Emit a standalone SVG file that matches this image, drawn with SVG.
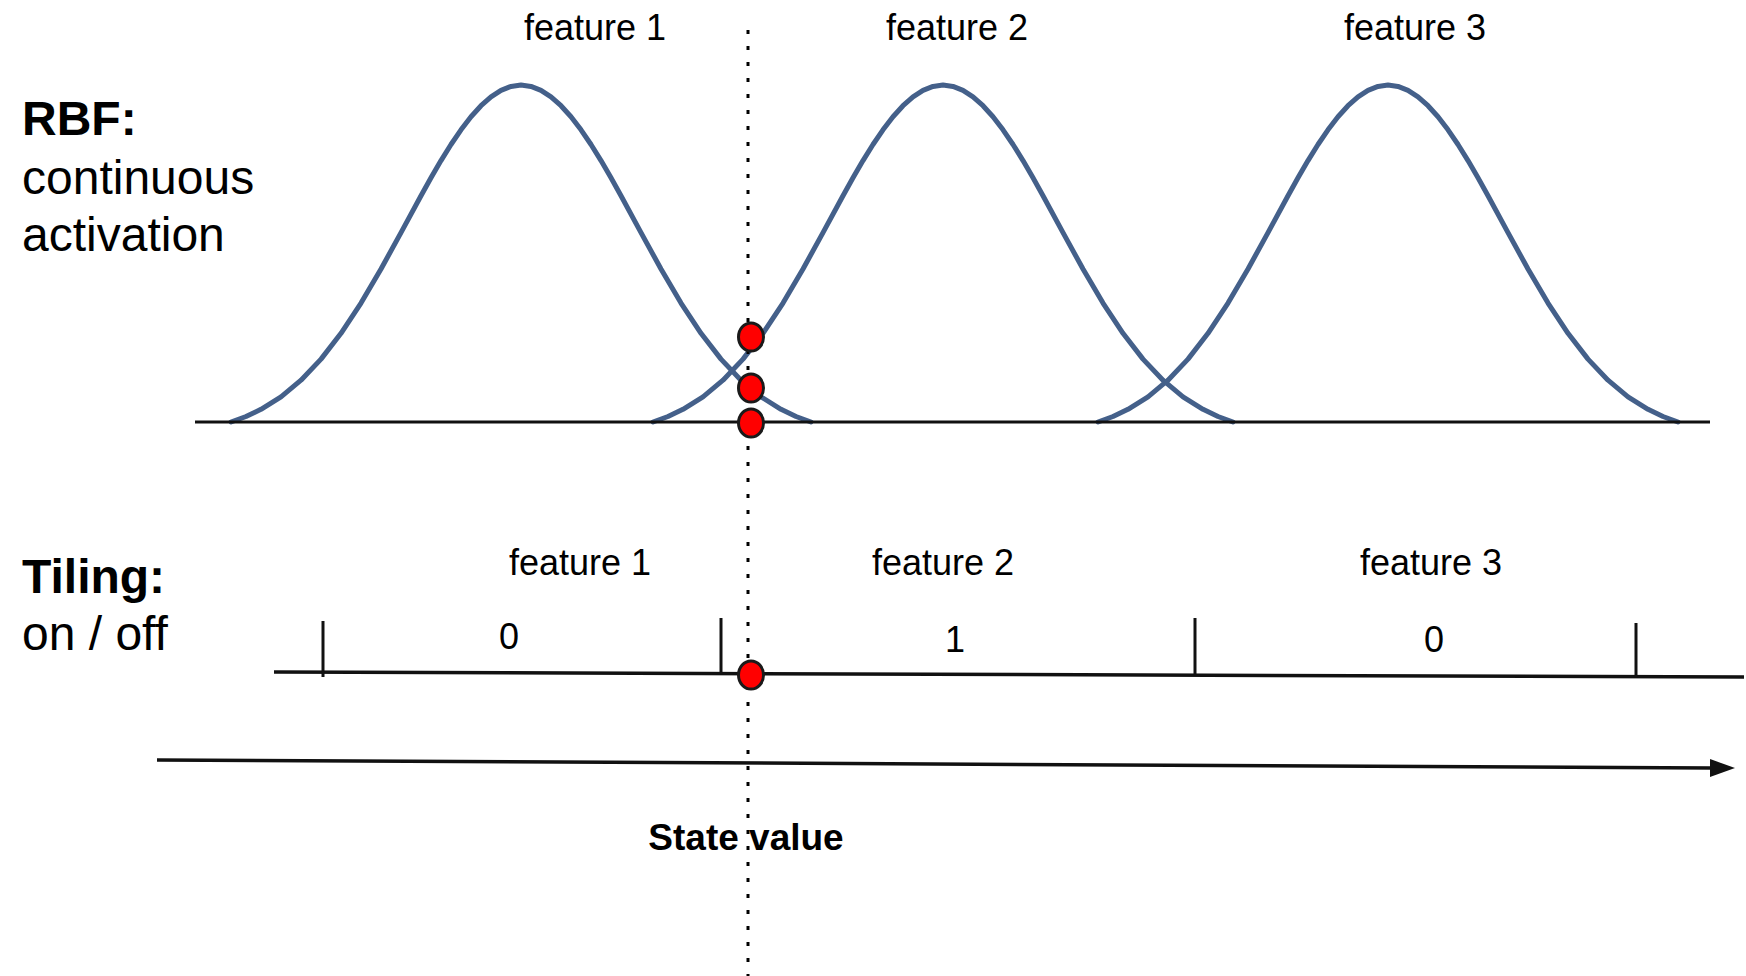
<svg xmlns="http://www.w3.org/2000/svg" width="1746" height="976" viewBox="0 0 1746 976">
<style>
.lbl{font-family:"Liberation Sans",Arial,sans-serif;font-size:36px;fill:#000;text-anchor:middle}
.big{font-family:"Liberation Sans",Arial,sans-serif;font-size:48px;fill:#000}
.bold{font-weight:bold}
.curve{fill:none;stroke:#44608a;stroke-width:5;stroke-linejoin:round;stroke-linecap:round}
.axis{stroke:#111;stroke-width:3.5;fill:none}
.tick{stroke:#111;stroke-width:3;fill:none}
.dot{fill:#ff0000;stroke:#1a1a1a;stroke-width:3}
.guide{stroke:#000;stroke-width:3;stroke-dasharray:4 12;fill:none}
</style>
<defs>
<path id="bell" d="M-290,422 L-275,416.5 L-260,409.3 L-240,396.8 L-220,380.2 L-200,359.1 L-180,333.3 L-160,303.1 L-140,269 L-120,232.6 L-100,195.7 L-90,177.8 L-80,160.6 L-70,144.5 L-60,129.8 L-50,116.7 L-40,105.7 L-30,96.8 L-20,90.3 L-10,86.4 L0,85 L10,86.4 L20,90.3 L30,96.8 L40,105.7 L50,116.7 L60,129.8 L70,144.5 L80,160.6 L90,177.8 L100,195.7 L120,232.6 L140,269 L160,303.1 L180,333.3 L200,359.1 L220,380.2 L240,396.8 L260,409.3 L275,416.5 L290,422"/>
<marker id="arrow" markerUnits="userSpaceOnUse" markerWidth="26" markerHeight="20" refX="2" refY="9" orient="auto">
<path d="M0,0 L25,9 L0,18 Z" fill="#111"/>
</marker>
</defs>

<g id="titles">
<text class="big bold" x="22" y="135">RBF:</text>
<text class="big" x="22" y="194">continuous</text>
<text class="big" x="22" y="251">activation</text>
<text class="big bold" x="22" y="593">Tiling:</text>
<text class="big" x="22" y="650">on / off</text>
</g>

<g id="state-label">
<text class="lbl bold" x="746" y="850" style="font-size:37px">State value</text>
</g>

<g id="rbf-feature-1">
<use href="#bell" class="curve" transform="translate(521,0)"/>
<text class="lbl" x="595" y="40">feature 1</text>
</g>
<g id="rbf-feature-2">
<use href="#bell" class="curve" transform="translate(943,0)"/>
<text class="lbl" x="957" y="40">feature 2</text>
</g>
<g id="rbf-feature-3">
<use href="#bell" class="curve" transform="translate(1388,0)"/>
<text class="lbl" x="1415" y="40">feature 3</text>
</g>

<g id="connectors">
<line id="rbf-axis" class="axis" x1="195" y1="422" x2="1710" y2="422" style="stroke-width:3"/>
<line id="tiling-axis" class="axis" x1="274" y1="672" x2="1744" y2="677"/>
<line id="state-axis" class="axis" x1="157" y1="760" x2="1712" y2="768" marker-end="url(#arrow)"/>
<line id="state-guide" class="guide" x1="748" y1="30" x2="748" y2="976"/>
</g>

<g id="tiling-feature-1">
<line class="tick" x1="323" y1="621" x2="323" y2="677"/>
<text class="lbl" x="580" y="575">feature 1</text>
<text class="lbl" x="509" y="649">0</text>
</g>
<g id="tiling-feature-2">
<line class="tick" x1="721" y1="618" x2="721" y2="672"/>
<text class="lbl" x="943" y="575">feature 2</text>
<text class="lbl" x="955" y="652">1</text>
</g>
<g id="tiling-feature-3">
<line class="tick" x1="1195" y1="618" x2="1195" y2="674"/>
<line class="tick" x1="1636" y1="623" x2="1636" y2="678"/>
<text class="lbl" x="1431" y="575">feature 3</text>
<text class="lbl" x="1434" y="652">0</text>
</g>

<g id="state-points">
<ellipse class="dot" cx="751" cy="337" rx="12.5" ry="14"/>
<ellipse class="dot" cx="751" cy="388" rx="12.5" ry="14"/>
<ellipse class="dot" cx="751" cy="423" rx="12.5" ry="14"/>
<ellipse class="dot" cx="751" cy="675" rx="12.5" ry="14"/>
</g>
</svg>
